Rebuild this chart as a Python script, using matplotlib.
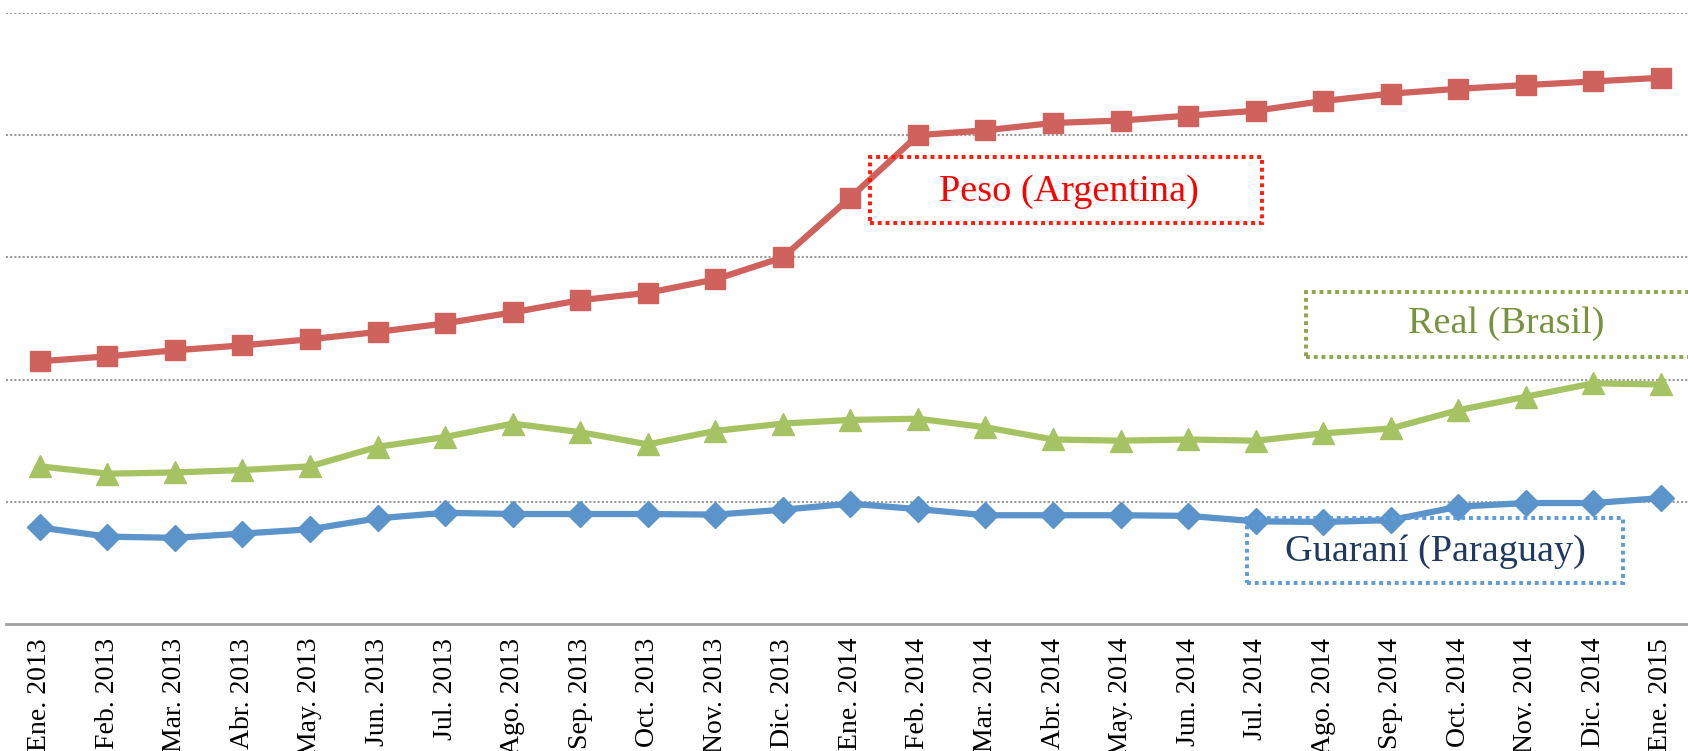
import numpy as np
import matplotlib
matplotlib.use("Agg")
import matplotlib.pyplot as plt
from matplotlib.patches import Rectangle

meses = ["Ene. 2013", "Feb. 2013", "Mar. 2013", "Abr. 2013", "May. 2013", "Jun. 2013",
         "Jul. 2013", "Ago. 2013", "Sep. 2013", "Oct. 2013", "Nov. 2013", "Dic. 2013",
         "Ene. 2014", "Feb. 2014", "Mar. 2014", "Abr. 2014", "May. 2014", "Jun. 2014",
         "Jul. 2014", "Ago. 2014", "Sep. 2014", "Oct. 2014", "Nov. 2014", "Dic. 2014",
         "Ene. 2015"]

peso = [2.15, 2.19, 2.24, 2.28, 2.33, 2.39, 2.46, 2.55, 2.65, 2.71, 2.82, 3.00,
        3.49, 4.00, 4.04, 4.10, 4.12, 4.16, 4.20, 4.28, 4.34, 4.38, 4.41, 4.44, 4.47]
real = [1.29, 1.23, 1.24, 1.26, 1.29, 1.45, 1.53, 1.64, 1.57, 1.47, 1.58, 1.64,
        1.67, 1.68, 1.61, 1.51, 1.50, 1.51, 1.50, 1.56, 1.60, 1.75, 1.86, 1.97, 1.96]
guarani = [0.79, 0.715, 0.705, 0.74, 0.775, 0.865, 0.91, 0.90, 0.90, 0.90, 0.895, 0.935,
           0.985, 0.94, 0.89, 0.89, 0.89, 0.885, 0.84, 0.835, 0.85, 0.96, 0.99, 0.99, 1.03]

plt.rcParams['font.family'] = ['Liberation Serif', 'DejaVu Serif']

fig = plt.figure(figsize=(16.88, 7.51), dpi=100)
ax = fig.add_axes([6/1688, 1-624/751, 1-6/1688, (624-13)/751])

x = np.arange(len(meses))
ax.plot(x, peso, color='#CF625C', lw=4.5, marker='s', ms=14.5, zorder=3)
ax.plot(x, real, color='#A6C363', lw=4.5, marker='^', ms=16.5, zorder=3)
ax.plot(x, guarani, color='#5B93CB', lw=4.5, marker='D', ms=13.5, zorder=3)

ax.set_ylim(0, 5)
ax.set_xlim(-0.5, 24.4)
ax.set_yticks([1, 2, 3, 4, 5])
ax.yaxis.grid(True, color='#9A9A9A', ls=(0, (1, 1)), lw=1.5)
ax.set_axisbelow(True)
ax.tick_params(axis='y', left=False, labelleft=False)
ax.set_xticks(x)
ax.set_xticklabels(meses, rotation=90, fontsize=20, va='top', ha='center')
ax.tick_params(axis='x', length=0, pad=10)
for s in ['top', 'right', 'left']:
    ax.spines[s].set_visible(False)
ax.spines['bottom'].set_color('#A0A0A0')
ax.spines['bottom'].set_linewidth(2)

def caja(x0, y0, x1, y1, borde, texto, color_texto, tx, ty):
    r = Rectangle((x0/1688, 1-y1/751), (x1-x0)/1688, (y1-y0)/751,
                  transform=fig.transFigure, fill=False, ec=borde, lw=2.8,
                  ls=(0, (1, 1)), zorder=5)
    fig.patches.append(r)
    fig.text(tx/1688, 1-ty/751, texto, color=color_texto, fontsize=27.5,
             ha='center', va='center')

caja(870, 157, 1262, 223, '#FF1A0A', 'Peso (Argentina)', '#FF0000', 1069, 192)
caja(1306, 292, 1700, 357, '#8CA64E', 'Real (Brasil)', '#77933C', 1506, 324)
caja(1247, 518, 1623, 583, '#5E9BDA', 'Guaraní (Paraguay)', '#1F3864', 1435, 552)

fig.savefig('out.png', dpi=100)
